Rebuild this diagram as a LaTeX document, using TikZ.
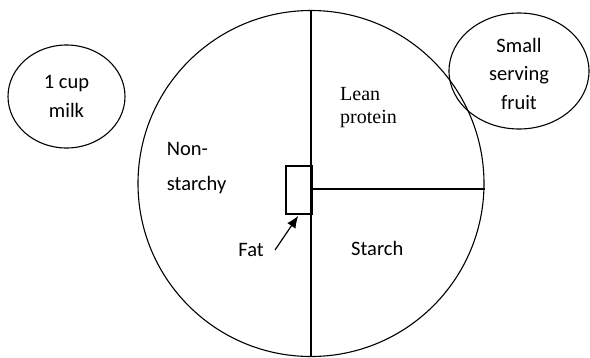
\documentclass[tikz,border=0pt]{standalone}
\usepackage{fontspec}
\setmainfont{Carlito}
\newfontfamily\leanfont{Liberation Serif}
\usetikzlibrary{shapes.geometric,arrows.meta}
\begin{document}
\begin{tikzpicture}[x=1pt,y=-1pt,
  outline/.style={draw=black,line width=1.1pt,inner sep=0pt},
  divider/.style={draw=black,line width=1.2pt},
  lbl/.style={inner sep=0pt,font=\fontsize{20.5}{28}\selectfont,align=left},
  bubble/.style={outline,ellipse,align=center,font=\fontsize{20.5}{28.5}\selectfont},
]
\useasboundingbox (0,0) rectangle (590,357);
% plate
\node[outline,circle,minimum size=346pt] (plate) at (311,183.5) {};
% side dishes
\node[bubble,minimum width=117pt,minimum height=103pt] (milk) at (66.5,96.5) {1 cup\\milk};
\node[bubble,minimum width=140pt,minimum height=116pt] (fruit) at (519,71) {\rule{0pt}{20pt}Small\\serving\\fruit};
% dividers
\draw[divider] (plate.north) -- (plate.south);
\coordinate (split) at (311,189);
\draw[divider] (split) -- (plate.east |- split);
% fat box
\node[draw,line width=1.2pt,minimum width=26pt,minimum height=48pt,inner sep=0pt] (fatbox) at (299,190) {};
\coordinate (fattail) at (275,250);
\draw[line width=1.2pt,-{Latex[length=12pt,width=10pt]},shorten >=1.5pt] (fattail) -- (fatbox.south);
% labels (base anchor = baseline of last line)
\node[lbl,anchor=base west,font=\fontsize{20.5}{35.5}\selectfont] (nonstarchy) at (166.7,190.7) {Non-\\starchy};
\node[lbl,anchor=base west] (starch) at (351,255) {Starch};
\node[lbl,anchor=base east] (fat) at (264,256) {Fat};
\node[lbl,anchor=base west,font=\leanfont\fontsize{20}{23}\selectfont] (lean) at (340,123) {Lean\\protein};
\end{tikzpicture}
\end{document}
